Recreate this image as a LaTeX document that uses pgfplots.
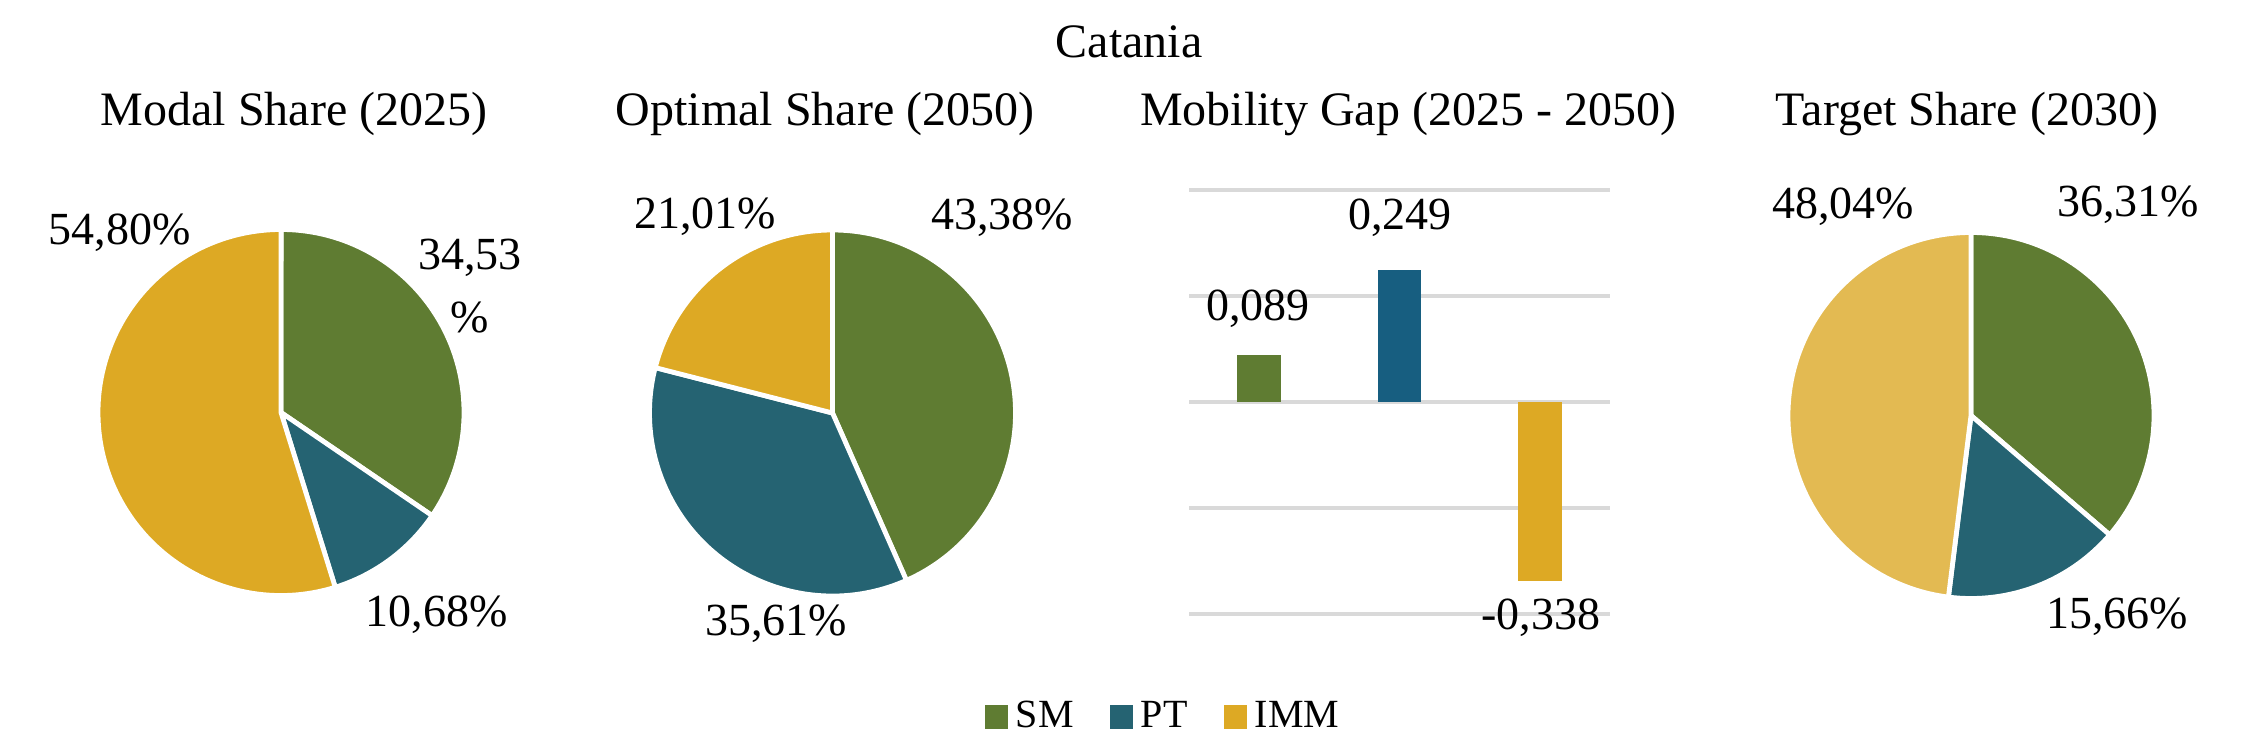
\documentclass[border=0pt]{standalone}
\usepackage{fontspec}
\setmainfont{Liberation Serif}
\usepackage{pgfplots}
\pgfplotsset{compat=1.18}
\definecolor{smc}{HTML}{5F7C32}
\definecolor{ptc}{HTML}{256372}
\definecolor{ptbar}{HTML}{175E80}
\definecolor{immc}{HTML}{DDA924}
\definecolor{immlight}{HTML}{E3BA52}
\definecolor{gridc}{HTML}{D9D9D9}
\newcommand{\lab}{\fontsize{11.5}{13}\selectfont}
\newcommand{\ttl}{\fontsize{12}{14}\selectfont}
\pgfplotsset{pieaxis/.style={anchor=center, width=91.5pt, height=91.5pt, scale only axis,
  xmin=-1, xmax=1, ymin=-1, ymax=1, hide axis, clip=false}}
\begin{document}
\begin{tikzpicture}[x=1pt,y=1pt]
% ---------- Pie 1: Modal Share (2025): SM 34.53, PT 10.68, IMM 54.80
\begin{axis}[pieaxis, at={(70.25pt,84.375pt)}]
\fill[smc, draw=white, line width=1.2pt, line join=round] (axis cs:0,0) -- ++(90:45.75pt)
  arc[start angle=90, delta angle={-3.6*34.53}, radius=45.75pt] -- cycle;
\fill[ptc, draw=white, line width=1.2pt, line join=round] (axis cs:0,0) -- ++({90-3.6*34.53}:45.75pt)
  arc[start angle={90-3.6*34.53}, delta angle={-3.6*10.68}, radius=45.75pt] -- cycle;
\fill[immc, draw=white, line width=1.2pt, line join=round] (axis cs:0,0) -- ++({90-3.6*45.21}:45.75pt)
  arc[start angle={90-3.6*45.21}, delta angle={-3.6*54.80}, radius=45.75pt] -- cycle;
\end{axis}
% ---------- Pie 2: Optimal Share (2050): SM 43.38, PT 35.61, IMM 21.01
\begin{axis}[pieaxis, at={(208.125pt,84.25pt)}]
\fill[smc, draw=white, line width=1.2pt, line join=round] (axis cs:0,0) -- ++(90:45.75pt)
  arc[start angle=90, delta angle={-3.6*43.38}, radius=45.75pt] -- cycle;
\fill[ptc, draw=white, line width=1.2pt, line join=round] (axis cs:0,0) -- ++({90-3.6*43.38}:45.75pt)
  arc[start angle={90-3.6*43.38}, delta angle={-3.6*35.61}, radius=45.75pt] -- cycle;
\fill[immc, draw=white, line width=1.2pt, line join=round] (axis cs:0,0) -- ++({90-3.6*78.99}:45.75pt)
  arc[start angle={90-3.6*78.99}, delta angle={-3.6*21.01}, radius=45.75pt] -- cycle;
\end{axis}
% ---------- Pie 4: Target Share (2030): SM 36.31, PT 15.66, IMM 48.04
\begin{axis}[pieaxis, at={(492.75pt,83.625pt)}]
\fill[smc, draw=white, line width=1.2pt, line join=round] (axis cs:0,0) -- ++(90:45.75pt)
  arc[start angle=90, delta angle={-3.6*36.31}, radius=45.75pt] -- cycle;
\fill[ptc, draw=white, line width=1.2pt, line join=round] (axis cs:0,0) -- ++({90-3.6*36.31}:45.75pt)
  arc[start angle={90-3.6*36.31}, delta angle={-3.6*15.66}, radius=45.75pt] -- cycle;
\fill[immlight, draw=white, line width=1.2pt, line join=round] (axis cs:0,0) -- ++({90-3.6*51.97}:45.75pt)
  arc[start angle={90-3.6*51.97}, delta angle={-3.6*48.03}, radius=45.75pt] -- cycle;
\end{axis}
% ---------- Bars: Mobility Gap (2025 - 2050)
\begin{axis}[at={(297.25pt,34pt)}, anchor=south west, width=105.25pt, height=106pt, scale only axis,
  xmin=-0.5, xmax=2.5, ymin=-0.4, ymax=0.4,
  axis line style={draw=none}, xtick=\empty, ytick={-0.4,-0.2,0,0.2,0.4}, yticklabels={},
  major tick length=0pt, ymajorgrids, grid style={line width=0.8pt, draw=gridc},
  ybar, bar width=10.9pt, bar shift=0pt, clip=false,
  legend columns=3,
  legend style={at={(-0.0546,-0.243)}, anchor=center, draw=none, fill=none,
    font=\fontsize{10}{12}\selectfont, inner sep=0pt,
    /tikz/every even column/.append style={column sep=7pt}},
]
\addplot[fill=smc, draw=none, legend image code/.code={\fill[smc] (0pt,-2.9pt) rectangle (5.8pt,2.9pt);}] coordinates {(0,0.089)};
\addplot[fill=ptbar, draw=none, legend image code/.code={\fill[ptc] (0pt,-2.9pt) rectangle (5.8pt,2.9pt);}] coordinates {(1,0.249)};
\addplot[fill=immc, draw=none, legend image code/.code={\fill[immc] (0pt,-2.9pt) rectangle (5.8pt,2.9pt);}] coordinates {(2,-0.338)};
\legend{SM,PT,IMM}
\end{axis}
% ---------- Texts
\node[anchor=base, inner sep=0pt, font=\ttl] at (282.25,173) {Catania};
\node[anchor=base, inner sep=0pt, font=\ttl] at (73.5,156) {Modal Share (2025)};
\node[anchor=base, inner sep=0pt, font=\ttl] at (206.25,156) {Optimal Share (2050)};
\node[anchor=base, inner sep=0pt, font=\ttl] at (352,156) {Mobility Gap (2025 - 2050)};
\node[anchor=base, inner sep=0pt, font=\ttl] at (491.75,156) {Target Share (2030)};
\node[anchor=base, inner sep=0pt, font=\lab] at (29.875,126.25) {54,80\%};
\node[anchor=base, inner sep=0pt, font=\lab] at (117.5,120) {34,53};
\node[anchor=base, inner sep=0pt, font=\lab] at (117.5,104.25) {\%};
\node[anchor=base, inner sep=0pt, font=\lab] at (109.125,30.75) {10,68\%};
\node[anchor=base, inner sep=0pt, font=\lab] at (176.25,130.25) {21,01\%};
\node[anchor=base, inner sep=0pt, font=\lab] at (250.5,130) {43,38\%};
\node[anchor=base, inner sep=0pt, font=\lab] at (194,28.5) {35,61\%};
\node[anchor=base, inner sep=0pt, font=\lab] at (314.5,107.25) {0,089};
\node[anchor=base, inner sep=0pt, font=\lab] at (350,130) {0,249};
\node[anchor=base, inner sep=0pt, font=\lab] at (385.25,30) {-0,338};
\node[anchor=base, inner sep=0pt, font=\lab] at (460.75,132.75) {48,04\%};
\node[anchor=base, inner sep=0pt, font=\lab] at (532,133.25) {36,31\%};
\node[anchor=base, inner sep=0pt, font=\lab] at (529.25,30.25) {15,66\%};
\pgfresetboundingbox
\path[use as bounding box] (0,0) rectangle (562.5,187.5);
\end{tikzpicture}
\end{document}
